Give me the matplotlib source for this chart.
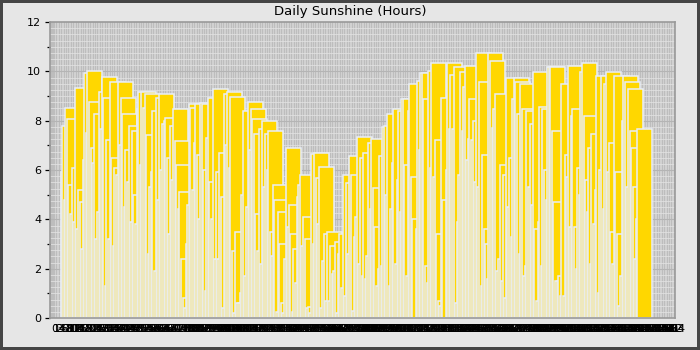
import matplotlib
matplotlib.use("Agg")
import matplotlib.pyplot as plt
from matplotlib.ticker import MultipleLocator
import numpy as np

title = "Daily Sunshine (Hours)"

sunshine = [
    5.9, 7.8, 4.8, 8.5, 8.07, 5.4, 4.2, 6.1, 3.9, 9.32,
    3.6, 5.2, 4.7, 2.8, 6.4, 9.93, 7.5, 10.0, 8.75, 6.9,
    6.3, 8.27, 3.2, 4.3, 9.16, 7.66, 9.77, 8.9, 1.3, 7.2,
    3.2, 9.57, 6.5, 2.9, 6.1, 5.8, 9.55, 7.0, 8.9, 8.27,
    4.5, 6.8, 5.5, 7.8, 3.9, 7.6, 5.0, 3.8, 8.47, 9.16,
    6.2, 9.16, 8.5, 9.1, 7.4, 2.6, 5.3, 5.9, 8.4, 1.9,
    8.9, 4.8, 9.08, 6.0, 7.86, 7.98, 8.1, 6.5, 3.4, 7.8,
    5.6, 8.47, 7.17, 6.2, 4.4, 5.1, 2.4, 0.8, 0.4, 3.0,
    4.6, 8.67, 8.5, 5.2, 7.1, 8.67, 6.6, 4.0, 8.7, 8.67,
    6.0, 1.1, 7.3, 8.9, 5.5, 4.0, 9.28, 2.4, 5.9, 2.4,
    6.7, 4.9, 0.4, 9.08, 7.0, 9.16, 6.1, 8.96, 2.7, 0.2,
    3.5, 0.6, 0.6, 1.0, 5.0, 8.4, 1.7, 4.5, 8.75, 6.8,
    8.47, 8.07, 7.45, 4.2, 2.7, 7.66, 2.2, 7.98, 5.3, 7.45,
    6.0, 7.58, 3.5, 2.5, 5.4, 4.8, 0.25, 4.3, 3.0, 0.6,
    0.2, 2.4, 6.89, 3.7, 4.6, 3.4, 0.25, 2.8, 1.4, 4.9,
    5.4, 5.8, 2.9, 4.1, 3.2, 0.4, 0.45, 0.2, 6.65, 3.0,
    6.69, 5.67, 3.8, 6.12, 0.4, 2.3, 3.4, 0.7, 3.5, 0.7,
    2.9, 1.8, 1.9, 3.1, 0.2, 2.6, 3.4, 1.2, 5.8, 0.9,
    5.47, 2.6, 6.57, 5.8, 0.3, 3.3, 4.1, 7.34, 2.2, 6.48,
    1.7, 6.69, 1.6, 2.5, 7.09, 4.4, 7.26, 5.27, 3.7, 1.3,
    2.0, 6.57, 2.1, 7.74, 7.78, 5.0, 8.27, 1.3, 4.4, 6.3,
    8.47, 2.2, 5.6, 8.39, 4.3, 8.88, 8.88, 6.2, 1.7, 8.39,
    9.47, 5.7, 4.0, 0.0, 3.6, 9.6, 6.8, 9.93, 9.93, 8.88,
    2.1, 1.4, 10.0, 6.1, 10.33, 5.7, 7.2, 3.4, 0.7, 0.5,
    8.9, 4.8, 0.0, 6.0, 10.33, 7.66, 9.85, 7.66, 10.17, 0.6,
    3.9, 5.8, 9.97, 7.58, 9.36, 10.2, 6.4, 7.26, 8.88, 7.2,
    7.98, 5.5, 10.75, 5.3, 9.56, 1.3, 6.6, 3.6, 3.0, 1.6,
    10.75, 10.42, 7.7, 8.47, 9.08, 1.9, 2.4, 6.2, 1.5, 5.8,
    0.8, 9.73, 4.5, 6.5, 3.3, 8.88, 9.73, 9.56, 8.27, 2.6,
    9.47, 8.47, 1.7, 2.1, 8.39, 5.3, 7.86, 4.6, 9.97, 3.6,
    0.7, 3.9, 8.55, 2.1, 8.47, 6.0, 4.8, 10.17, 10.17, 10.17,
    7.58, 4.7, 1.5, 1.5, 1.7, 0.9, 9.47, 0.9, 6.6, 5.7,
    10.2, 3.7, 8.18, 8.47, 3.7, 2.0, 6.1, 5.0, 9.97, 10.33,
    8.18, 5.6, 4.3, 6.9, 2.2, 7.45, 3.8, 5.2, 9.8, 1.0,
    6.0, 9.8, 4.4, 9.47, 9.97, 5.9, 7.09, 3.5, 2.2, 9.8,
    5.9, 3.4, 0.5, 1.7, 7.98, 9.8, 9.56, 5.3, 9.28, 7.58,
    6.89, 5.3, 2.4, 4.0, 7.66,
]
days = list(range(len(sunshine)))
day_labels = [str(d) for d in days]

W, H = 700, 350
fig = plt.figure(figsize=(7, 3.5), dpi=100, facecolor="#e6e6e6",
                 edgecolor="#454545", linewidth=4)

left, right, top, bottom = 50, 675, 22, 318
ax = fig.add_axes([left / W, (H - bottom) / H, (right - left) / W, (bottom - top) / H])
ax.set_facecolor("#bdbdbd")
ax.set_xlim(-2.9, 363.6)
ax.set_ylim(0, 12)

# background grid pattern
for yv in np.arange(0.25, 12, 0.25):
    ax.axhline(yv, color="#e2e2e2", lw=0.55, zorder=0.5)
ax.set_xticks(days)
ax.set_xticklabels(day_labels, fontsize=8, color="black")
ax.grid(axis="x", color="#e2e2e2", lw=0.4, zorder=0.6)
ax.set_axisbelow(True)
for yv in np.arange(2, 12, 2):
    ax.axhline(yv, color="#b4b4b4", lw=0.8, zorder=0.7)

ax.yaxis.set_major_locator(MultipleLocator(2))
ax.yaxis.set_minor_locator(MultipleLocator(1))
ax.tick_params(axis="x", length=0, pad=4.5)
ax.tick_params(axis="y", which="major", length=3.6, width=0.9, labelsize=8, pad=2.8, color="black")
ax.tick_params(axis="y", which="minor", length=2.4, width=0.9, color="black")
for s in ax.spines.values():
    s.set_visible(False)

# bars on a twin axis with its own x scale
ax2 = ax.twiny()
ax2.set_xlim(-11.36, 382.97)
ax2.bar(days, sunshine, width=9.46, color="#FFD700", edgecolor="#e9eef7",
        linewidth=1.1, align="center", zorder=2)
ax2.tick_params(axis="x", top=False, labeltop=False, bottom=False, labelbottom=False)
for s in ax2.spines.values():
    s.set_color("#9a9a9a")
    s.set_linewidth(1.2)

fig.text(0.5, 1 - 11 / H, title, ha="center", va="center", fontsize=9.5, color="black")

fig.savefig("out.png", dpi=100)
